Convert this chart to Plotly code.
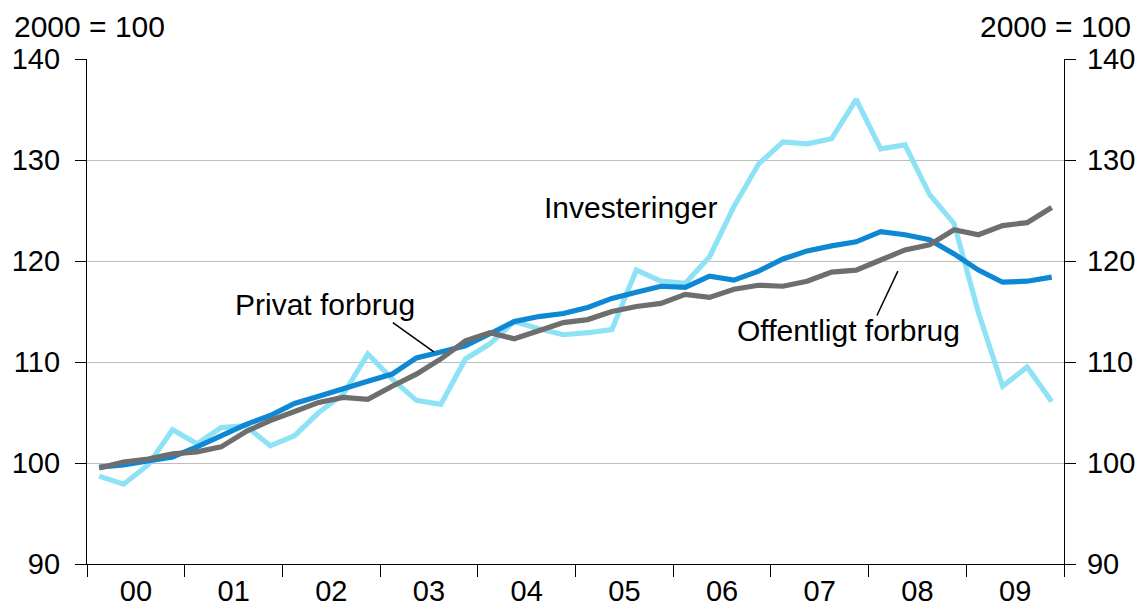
import plotly.graph_objects as go
import pandas as pd

# Quarters 2000K1 - 2009K4
quarters = [f"{y}Q{q}" for y in range(2000, 2010) for q in (1, 2, 3, 4)]
year_labels = ["00", "01", "02", "03", "04", "05", "06", "07", "08", "09"]

privat_forbrug = [99.6, 99.8, 100.2, 100.6, 101.6, 102.7, 103.8, 104.7, 105.9, 106.6,
                  107.4, 108.1, 108.8, 110.4, 111.0, 111.6, 112.8, 114.0, 114.5, 114.8,
                  115.4, 116.3, 116.9, 117.5, 117.4, 118.5, 118.1, 119.0, 120.2, 121.0,
                  121.5, 121.9, 122.9, 122.6, 122.1, 120.7, 119.1, 117.9, 118.0, 118.4]

offentligt_forbrug = [99.5, 100.1, 100.4, 100.9, 101.1, 101.6, 103.1, 104.2, 105.1, 106.0,
                      106.5, 106.3, 107.6, 108.8, 110.3, 112.1, 112.9, 112.3, 113.1, 113.9,
                      114.2, 115.0, 115.5, 115.8, 116.7, 116.4, 117.2, 117.6, 117.5, 118.0,
                      118.9, 119.1, 120.1, 121.1, 121.6, 123.1, 122.6, 123.5, 123.8, 125.3]

investeringer = [98.7, 97.9, 99.8, 103.3, 101.9, 103.5, 103.7, 101.7, 102.7, 105.0,
                 106.8, 110.8, 108.3, 106.2, 105.8, 110.3, 111.8, 114.0, 113.3, 112.7,
                 112.9, 113.2, 119.1, 118.0, 117.8, 120.4, 125.4, 129.6, 131.8, 131.6,
                 132.1, 136.0, 131.1, 131.5, 126.6, 123.7, 114.9, 107.6, 109.5, 106.1]


def mid(q):
    p = pd.Period(q, freq="Q")
    return p.start_time + (p.end_time - p.start_time) / 2


x = [mid(q) for q in quarters]


def yr(f):
    y = int(f)
    start = pd.Timestamp(f"{y}-01-01")
    end = pd.Timestamp(f"{y+1}-01-01")
    return start + (end - start) * (f - y)


FONT = "Liberation Sans, Arial, Helvetica, sans-serif"
DARK_BLUE = "#0F88D4"
LIGHT_BLUE = "#8EE2F6"
GRAY = "#6E6E6E"
LW = 5.2

fig = go.Figure()
fig.add_trace(go.Scatter(x=x, y=investeringer, mode="lines", name="Investeringer",
                         line=dict(color=LIGHT_BLUE, width=LW)))
fig.add_trace(go.Scatter(x=x, y=privat_forbrug, mode="lines", name="Privat forbrug",
                         line=dict(color=DARK_BLUE, width=LW)))
fig.add_trace(go.Scatter(x=x, y=offentligt_forbrug, mode="lines", name="Offentligt forbrug",
                         line=dict(color=GRAY, width=LW), yaxis="y2"))

axis_common = dict(range=[90, 140], tick0=90, dtick=10, showline=True, linecolor="black",
                   linewidth=1.3, ticks="outside", ticklen=11, tickcolor="black", tickwidth=1.3,
                   zeroline=False, automargin=False,
                   tickfont=dict(family=FONT, size=29, color="black"))

# The page body has an 8px margin, so the figure is shifted by 8px; compensate.
fig.update_layout(
    width=1135, height=599,
    margin=dict(l=79, r=79, t=51, b=43),
    paper_bgcolor="white", plot_bgcolor="white",
    showlegend=False,
    font=dict(family=FONT, size=29, color="black"),
    xaxis=dict(type="date", range=["2000-01-01", "2010-01-01"], tick0="2000-01-01",
               dtick="M12", tickformat="%y", ticklabelmode="period",
               showline=True, linecolor="black", linewidth=1.3, ticks="outside",
               ticklen=12, tickcolor="black", tickwidth=1.3, showgrid=False,
               automargin=False, ticklabelstandoff=-11,
               tickfont=dict(family=FONT, size=29, color="black")),
    yaxis=dict(**axis_common, showgrid=True, gridcolor="#BDBDBD", gridwidth=1.2,
               side="left", ticklabelstandoff=9),
    yaxis2=dict(**axis_common, overlaying="y", side="right", showgrid=False,
                ticklabelstandoff=5),
)

annotations = [
    dict(text="2000 = 100", xref="paper", yref="paper", x=-0.0768, y=1.065,
         xanchor="left", yanchor="middle", showarrow=False),
    dict(text="2000 = 100", xref="paper", yref="paper", x=1.0706, y=1.065,
         xanchor="right", yanchor="middle", showarrow=False),
    dict(text="Investeringer", x=yr(2005.56), y=125.3, xref="x", yref="y",
         showarrow=False),
    dict(text="Privat forbrug", x=yr(2002.44), y=115.7, xref="x", yref="y",
         showarrow=False),
    dict(text="Offentligt forbrug", x=yr(2007.80), y=113.1, xref="x", yref="y",
         showarrow=False),
]
for a in annotations:
    a.setdefault("font", dict(family=FONT, size=30, color="black"))
fig.update_layout(annotations=annotations)

fig.add_shape(type="line", xref="x", yref="y", x0=yr(2003.13), y0=113.9,
              x1=yr(2003.55), y1=111.0, line=dict(color="black", width=1.5))
fig.add_shape(type="line", xref="x", yref="y", x0=yr(2008.086), y0=114.6,
              x1=yr(2008.30), y1=119.0, line=dict(color="black", width=1.5))

fig.write_html("out.html")
